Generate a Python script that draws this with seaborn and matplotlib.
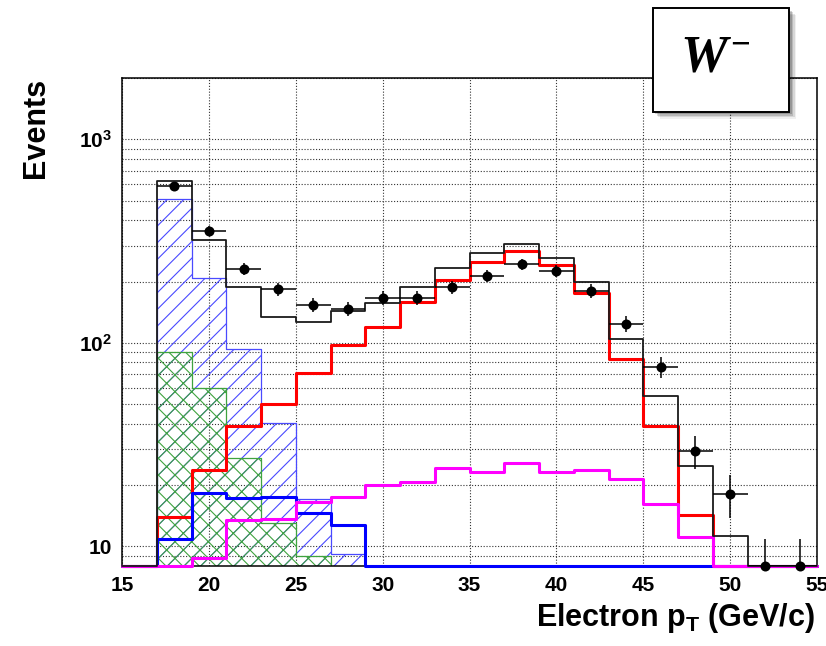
import numpy as np
import matplotlib
matplotlib.use("Agg")
import matplotlib.pyplot as plt
import seaborn as sns
from matplotlib.ticker import FixedLocator, FixedFormatter, MultipleLocator, NullFormatter, LogLocator
from matplotlib.patches import Rectangle

# ---------------- data ----------------
bin_edges = list(range(15, 57, 2))          # 15,17,...,55
bin_centers = list(range(16, 56, 2))        # 16,18,...,54

total_mc = [0, 627, 321, 189, 134, 127, 143, 157, 189, 234, 275, 306, 262, 199, 104.5, 55, 24.9, 11.2, 0, 0]
w_enu = [0, 14.0, 23.8, 38.8, 50, 71, 97, 120, 158, 204, 249, 284, 242, 175, 83, 39, 14.3, 0, 0, 0]
bkg_magenta = [0, 0, 8.8, 13.4, 13.6, 16.5, 17.5, 20.0, 20.7, 24.3, 23.3, 25.7, 23.3, 23.6, 21.4, 16.2, 11.1, 0, 0, 0]
bkg_blue = [0, 10.9, 18.3, 17.2, 17.4, 14.5, 12.7, 0, 0, 0, 0, 0, 0, 0, 0, 0, 0, 0, 0, 0]
qcd_hatched = [0, 507, 208, 93.6, 40.4, 17.1, 9.2, 0, 0, 0, 0, 0, 0, 0, 0, 0, 0, 0, 0, 0]
green_hatched = [0, 89.6, 60, 27, 13.0, 9.0, 0, 0, 0, 0, 0, 0, 0, 0, 0, 0, 0, 0, 0, 0]
data_counts = [np.nan, 590, 356, 231, 184, 154, 147, 166, 166, 187, 213, 243, 226, 180, 124, 76, 29.4, 18.1, 0, 0]
data_err_low = [np.nan, 24.3, 18.9, 15.2, 13.6, 12.4, 12.1, 12.9, 12.9, 13.7, 14.6, 15.6, 15.0, 13.4, 11.1, 8.7, 5.4, 4.3, 0, 0]
data_err_high = [np.nan, 24.3, 18.9, 15.2, 13.6, 12.4, 12.1, 12.9, 12.9, 13.7, 14.6, 15.6, 15.0, 13.4, 11.1, 8.7, 5.4, 4.3, 2.8, 2.8]

x_ticks = [15, 20, 25, 30, 35, 40, 45, 50, 55]
y_ticks = [10, 100, 1000]
y_tick_labels = ["10", r"$10^{2}$", r"$10^{3}$"]

YMIN, YMAX = 8, 2000
XMIN, XMAX = 15, 55

# ---------------- style ----------------
sns.set_theme(style="white")
plt.rcParams["font.family"] = ["Liberation Sans", "DejaVu Sans"]
plt.rcParams["font.weight"] = "bold"
plt.rcParams["mathtext.fontset"] = "custom"
plt.rcParams["mathtext.rm"] = "Liberation Sans:bold"
plt.rcParams["mathtext.bf"] = "Liberation Sans:bold"
plt.rcParams["mathtext.it"] = "Liberation Sans:italic:bold"
plt.rcParams["mathtext.sf"] = "Liberation Sans:bold"
plt.rcParams["hatch.linewidth"] = 0.8

W, H = 826, 646
fig = plt.figure(figsize=(W / 100, H / 100), dpi=100)
fig.patch.set_facecolor("white")
ax = fig.add_axes([122 / W, 1 - 566 / H, (817 - 122) / W, (566 - 78) / H])
ax.set_facecolor("white")

floor = lambda v: np.maximum(np.asarray(v, dtype=float), YMIN)

# hatched backgrounds
sns.histplot(x=bin_centers, weights=qcd_hatched, bins=bin_edges, element="step", fill=True,
             color="#4a4aff", facecolor="none", edgecolor="#4a4aff", hatch="//", linewidth=0.9,
             ax=ax, zorder=2)
sns.histplot(x=bin_centers, weights=green_hatched, bins=bin_edges, element="step", fill=True,
             color="#3fa33f", facecolor="none", edgecolor="#3fa33f", hatch="xx", linewidth=0.9,
             ax=ax, zorder=2.1)

# line histograms (empty bins drawn along the lower frame, as in the original)
sns.histplot(x=bin_centers, weights=floor(w_enu), bins=bin_edges, element="step", fill=False,
             color="#ff0000", linewidth=2.2, ax=ax, zorder=3, clip_on=False)
sns.histplot(x=bin_centers, weights=floor(bkg_blue), bins=bin_edges, element="step", fill=False,
             color="#0000ff", linewidth=2.2, ax=ax, zorder=3.1, clip_on=False)
sns.histplot(x=bin_centers, weights=floor(bkg_magenta), bins=bin_edges, element="step", fill=False,
             color="#ff00ff", linewidth=2.2, ax=ax, zorder=3.2, clip_on=False)
sns.histplot(x=bin_centers, weights=floor(total_mc), bins=bin_edges, element="step", fill=False,
             color="#1a1a1a", linewidth=1.3, ax=ax, zorder=3.3, clip_on=False)

# data points
dc = np.array(data_counts, dtype=float)
dy = np.where(np.isnan(dc), np.nan, np.where(dc > 0, dc, YMIN))
ax.errorbar(bin_centers, dy, yerr=[data_err_low, data_err_high], xerr=1.0, fmt="none",
            ecolor="black", elinewidth=1.1, capsize=0, zorder=5)
sns.scatterplot(x=bin_centers, y=dy, color="black", s=52, edgecolor="black", linewidth=0,
                ax=ax, zorder=6, clip_on=False, legend=False)

# ---------------- axes ----------------
ax.set_yscale("log")
ax.set_xlim(XMIN, XMAX)
ax.set_ylim(YMIN, YMAX)
ax.set_xlabel("")
ax.set_ylabel("")

ax.xaxis.set_major_locator(FixedLocator(x_ticks))
ax.xaxis.set_minor_locator(MultipleLocator(1))
ax.yaxis.set_major_locator(FixedLocator(y_ticks))
ax.yaxis.set_major_formatter(FixedFormatter(y_tick_labels))
ax.yaxis.set_minor_locator(LogLocator(base=10, subs=np.arange(2, 10)))
ax.yaxis.set_minor_formatter(NullFormatter())

ax.tick_params(axis="both", which="both", direction="in", top=False, right=False,
               colors="black", width=1.0, labelsize=15)
ax.tick_params(axis="x", which="major", length=13, pad=7)
ax.tick_params(axis="x", which="minor", length=6.5)
ax.tick_params(axis="y", which="major", length=14.5, pad=7)
ax.tick_params(axis="y", which="minor", length=8.5)
for lab in ax.get_xticklabels() + ax.get_yticklabels():
    lab.set_fontweight("bold")

grid_kw = dict(color="#333333", linestyle=(0, (1, 1.6)), linewidth=0.8)
ax.grid(True, which="major", axis="x", **grid_kw)
ax.grid(True, which="both", axis="y", **grid_kw)
ax.set_axisbelow(True)

for s in ax.spines.values():
    s.set_color("black")
    s.set_linewidth(1.1)
    s.set_visible(True)

# axis titles
fig.text(815 / W, 1 - 626 / H, r"Electron p$_{\mathrm{T}}$ (GeV/c)", ha="right", va="baseline",
         fontsize=22, fontweight="bold", color="black")
fig.text(36 / W, 1 - 178 / H, "Events", rotation=90, ha="center", va="bottom",
         fontsize=22, fontweight="bold", color="black")

# W- label box with shadow
bx0, bx1, by_top, by_bot = 652.7, 789.0, 8.3, 111.7
bw, bh = (bx1 - bx0) / W, (by_bot - by_top) / H
for off, a in [(7, 0.06), (5.5, 0.10), (4, 0.14), (2.5, 0.18)]:
    fig.add_artist(Rectangle((bx0 / W + off / W, 1 - by_bot / H - off / H), bw, bh,
                             transform=fig.transFigure, facecolor="black", alpha=a,
                             edgecolor="none", zorder=10))
fig.add_artist(Rectangle((bx0 / W, 1 - by_bot / H), bw, bh, transform=fig.transFigure,
                         facecolor="white", edgecolor="black", linewidth=1.4, zorder=11))
fig.text(680 / W, 1 - 72 / H, "W", family=["Liberation Serif", "DejaVu Serif"], style="italic",
         weight="bold", fontsize=38, ha="left", va="baseline", color="black", zorder=12)
fig.text(730 / W, 1 - 55 / H, "\u2212", family=["Liberation Serif", "DejaVu Serif"],
         weight="bold", fontsize=25, ha="left", va="baseline", color="black", zorder=12)

fig.savefig("out.png", dpi=100, facecolor="white")
